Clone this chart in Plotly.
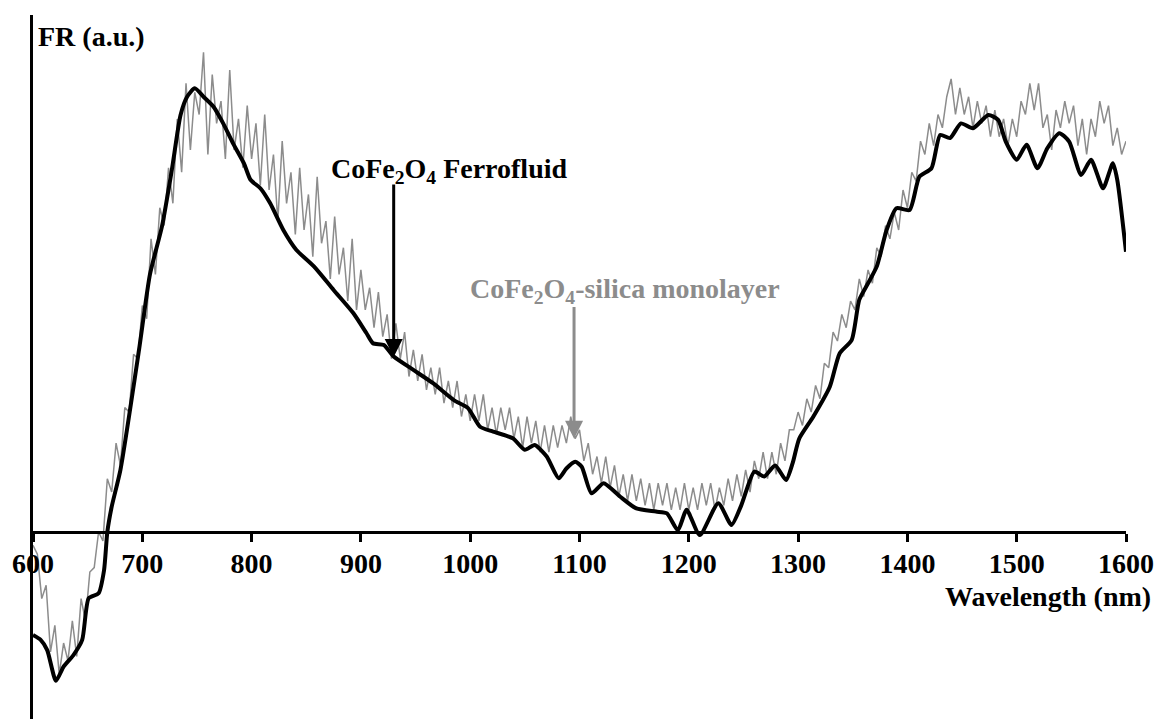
import plotly.graph_objects as go

# Faraday rotation spectra (arbitrary units)
ferrofluid_wl = [600, 607, 613, 621, 628, 637, 645, 651, 660, 665, 668, 672, 680, 697, 707, 718,
                 727, 735, 741, 748, 756, 765, 774, 783, 793, 799, 808, 817, 829, 841, 857, 875,
                 893, 905, 911, 921, 930, 948, 966, 985, 998, 1009, 1021, 1039, 1050, 1059, 1070,
                 1081, 1088, 1096, 1102, 1111, 1122, 1137, 1152, 1170, 1180, 1190, 1198, 1210,
                 1227, 1239, 1248, 1260, 1269, 1279, 1289, 1295, 1301, 1314, 1329, 1338, 1349,
                 1356, 1364, 1372, 1381, 1390, 1402, 1411, 1422, 1430, 1439, 1449, 1460, 1474,
                 1483, 1490, 1500, 1509, 1519, 1528, 1539, 1548, 1559, 1568, 1579, 1588, 1592, 1600]
ferrofluid_fr = [-23.2, -24.3, -26.6, -33.5, -30.3, -27.7, -24.3, -14.9, -13.8, -8.6, 0, 5.7, 14, 41,
                 58, 68.8, 81.5, 93.9, 98, 99.9, 98, 95.8, 92, 87.5, 83, 79.3, 77.4, 74, 68, 63.5,
                 59.8, 54.5, 49.3, 44.8, 42.5, 42.1, 39.5, 36.5, 33.5, 29.7, 27.9, 23.7, 22.6, 21.1,
                 18.5, 19.6, 17, 12.1, 14.3, 15.8, 14.7, 8.7, 11, 8, 5.3, 4.6, 4.2, 0.4, 5, -0.7,
                 6.5, 1.6, 6, 13.6, 12.5, 15, 11.7, 15.5, 21, 26, 32.7, 40.2, 43.2, 52.3, 56, 59.8,
                 68, 72.9, 72.5, 80, 81.9, 89.4, 88.7, 92, 90.9, 93.9, 92.8, 87.9, 83.8, 87.2, 81.9,
                 86.4, 89.8, 87.9, 80.4, 83.8, 77.4, 83, 79.3, 63.1]

# monolayer spectrum, sampled every 4 nm from 600 to 1600 nm
monolayer_wl = list(range(600, 1601, 4))
monolayer_fr = [
    -3, -5, -15, -12, -27, -21, -32, -25, -29, -20, -28, -15, -20, -9, -8, 0, -2, 12, 9, 20, 15, 28, 27, 40, 39,
    51, 48, 66, 58, 73, 69, 82, 74, 93, 81, 101, 86, 99, 94, 108, 85, 103, 92, 97, 84, 104, 86, 93, 82, 96,
    84, 92, 78, 94, 77, 85, 70, 88, 74, 81, 67, 82, 68, 76, 62, 80, 65, 70, 57, 71, 58, 64, 52, 66, 50,
    59, 50, 55, 46, 54, 44, 49, 39, 47, 39, 45, 35, 41, 34, 40, 32, 37, 31, 37, 29, 34, 28, 34, 26, 31,
    25, 31, 25, 31, 23, 28, 22, 28, 23, 28, 21, 26, 19, 26, 20, 25, 18, 24, 18, 24, 19, 24, 20, 26, 21,
    23, 16, 20, 13, 17, 11, 17, 10, 15, 8, 13, 7, 13, 7, 12, 6, 11, 5, 11, 6, 11, 5, 10, 5, 11,
    5, 10, 5, 11, 6, 11, 5, 10, 6, 12, 7, 13, 8, 14, 9, 16, 12, 18, 12, 18, 13, 20, 16, 23, 23,
    27, 24, 30, 27, 33, 30, 38, 37, 45, 43, 49, 46, 52, 50, 57, 53, 59, 56, 64, 62, 69, 66, 72, 68, 77,
    73, 81, 79, 88, 85, 92, 87, 94, 91, 98, 102, 94, 100, 94, 98, 91, 97, 92, 96, 89, 95, 89, 93, 87, 93,
    89, 97, 94, 101, 95, 101, 91, 94, 86, 95, 91, 97, 92, 96, 87, 93, 85, 93, 89, 97, 92, 96, 87, 91, 85,
    88,
]

x_ticks = [600, 700, 800, 900, 1000, 1100, 1200, 1300, 1400, 1500, 1600]
x_range = [600, 1600]
y_range = [-42.1, 116.4]

FONT = "Liberation Serif, Times New Roman, serif"
GRAY = "#8c8c8c"

fig = go.Figure()
fig.add_trace(go.Scatter(
    x=monolayer_wl, y=monolayer_fr, mode="lines",
    line=dict(color=GRAY, width=1.5), showlegend=False,
))
fig.add_trace(go.Scatter(
    x=ferrofluid_wl, y=ferrofluid_fr, mode="lines",
    line=dict(color="black", width=4, shape="spline", smoothing=0.6), showlegend=False,
))

# x axis crosses at FR = 0
x_axis_pos = (0 - y_range[0]) / (y_range[1] - y_range[0])

fig.update_layout(
    width=1161, height=719,
    margin=dict(l=33, r=35, t=15, b=0),
    paper_bgcolor="white", plot_bgcolor="white",
    font=dict(family=FONT, size=28, color="black"),
    xaxis=dict(
        range=x_range, tickvals=x_ticks, ticktext=[str(t) for t in x_ticks],
        showgrid=False, zeroline=False, showline=True, linecolor="black", linewidth=2.5,
        ticks="outside", ticklen=8, tickwidth=2.5, tickcolor="black",
        anchor="free", position=x_axis_pos, ticklabelstandoff=-2,
        tickfont=dict(family=FONT, size=28, color="black", weight="bold"),
    ),
    yaxis=dict(
        range=y_range, showgrid=False, zeroline=False, showline=True,
        linecolor="black", linewidth=2.5, showticklabels=False, ticks="",
    ),
)

bold = dict(family=FONT, size=28, weight="bold")

fig.add_annotation(x=600, y=111.5, xref="x", yref="y", text="FR (a.u.)", showarrow=False,
                   xanchor="left", yanchor="middle", xshift=3, font=dict(**bold, color="black"))
fig.add_annotation(x=1, y=-14.6, xref="paper", yref="y", text="Wavelength (nm)", showarrow=False,
                   xanchor="right", yanchor="middle", xshift=27, font=dict(**bold, color="black"))

# series labels with pointer arrows
fig.add_annotation(x=981, y=81.5, xref="x", yref="y", text="CoFe<sub>2</sub>O<sub>4</sub> Ferrofluid",
                   showarrow=False, font=dict(**bold, color="black"))
fig.add_annotation(x=930, y=39.4, xref="x", yref="y", ax=930, ay=78.6, axref="x", ayref="y",
                   text="", showarrow=True, arrowhead=2, arrowsize=1.2, arrowwidth=3,
                   arrowcolor="black")
fig.add_annotation(x=1142, y=54.3, xref="x", yref="y",
                   text="CoFe<sub>2</sub>O<sub>4</sub>-silica monolayer",
                   showarrow=False, font=dict(**bold, color=GRAY))
fig.add_annotation(x=1095, y=21, xref="x", yref="y", ax=1095, ay=51, axref="x", ayref="y",
                   text="", showarrow=True, arrowhead=2, arrowsize=1.2, arrowwidth=3,
                   arrowcolor=GRAY)

fig.write_html("out.html")
